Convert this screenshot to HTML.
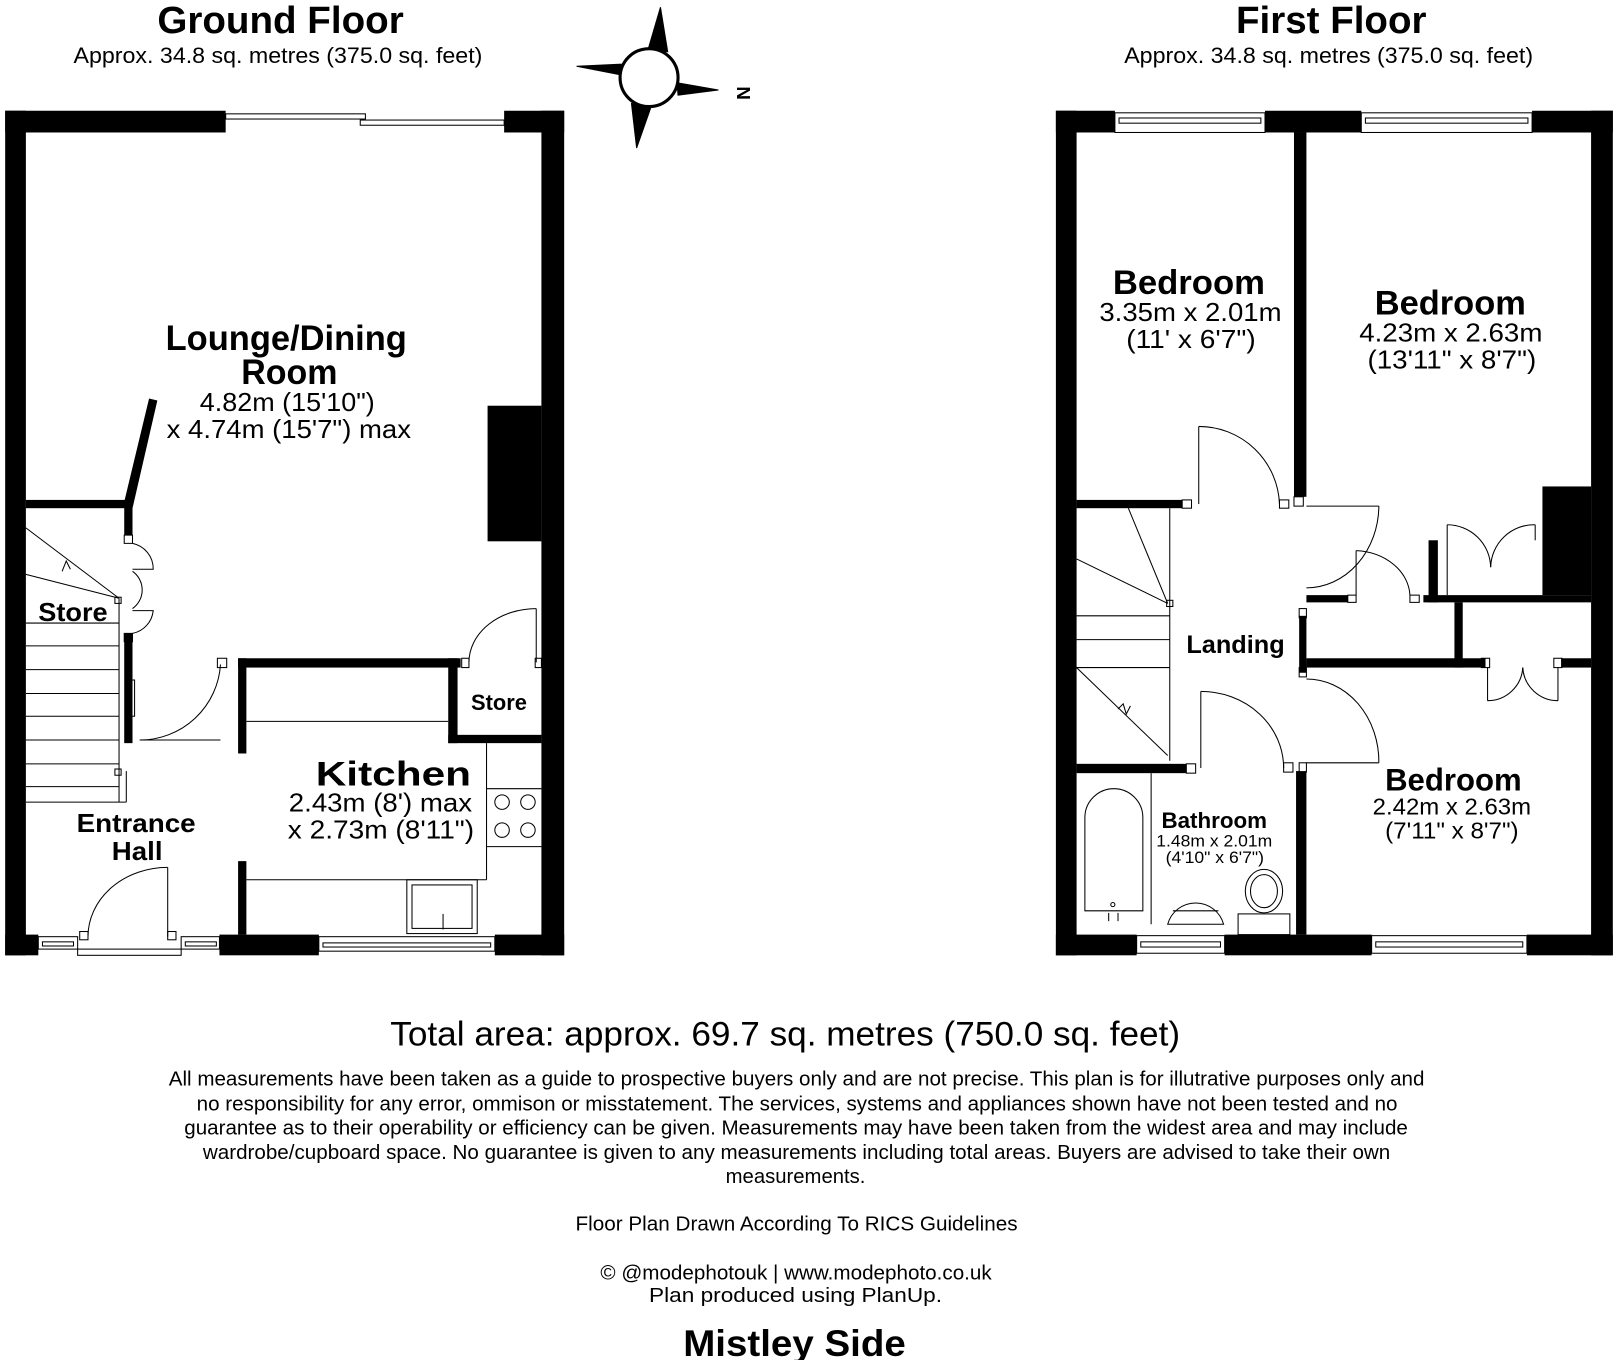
<!DOCTYPE html>
<html><head><meta charset="utf-8"><style>
html,body{margin:0;padding:0;background:#fff;}
svg{display:block;}
text{font-family:"Liberation Sans",sans-serif;fill:#000;}
.b{font-weight:bold;}
</style></head><body>
<svg width="1618" height="1360" viewBox="0 0 1563 1314" preserveAspectRatio="none" xmlns="http://www.w3.org/2000/svg">
<rect width="1563" height="1314" fill="#fff"/>
<!-- Titles -->
<text x="152" y="32" font-size="37" class="b" textLength="238" lengthAdjust="spacingAndGlyphs">Ground Floor</text>
<text x="71" y="61" font-size="21" textLength="395" lengthAdjust="spacingAndGlyphs">Approx. 34.8 sq. metres (375.0 sq. feet)</text>
<text x="1194" y="32" font-size="37" class="b" textLength="184" lengthAdjust="spacingAndGlyphs">First Floor</text>
<text x="1086" y="61" font-size="21" textLength="395" lengthAdjust="spacingAndGlyphs">Approx. 34.8 sq. metres (375.0 sq. feet)</text>

<!-- Compass -->
<g stroke="#000" stroke-width="1">
<polygon points="638,7 626,48 645,50" fill="#000"/>
<polygon points="557,64 598,72 600,62" fill="#000"/>
<polygon points="694,87 655,92 654,80" fill="#000"/>
<polygon points="615,143 629,103 610,100" fill="#000"/>
</g>
<circle cx="627" cy="75" r="28" fill="#fff" stroke="#000" stroke-width="3"/>
<text x="712" y="90" font-size="18" class="b" transform="rotate(90 712 90)" text-anchor="middle">N</text>

<!-- ===== Ground floor ===== -->
<g fill="#000">
<rect x="5" y="107" width="213" height="21"/>
<rect x="487" y="107" width="58" height="21"/>
<rect x="5" y="107" width="20" height="816"/>
<rect x="523" y="107" width="22" height="816"/>
<rect x="5" y="903" width="32" height="20"/>
<rect x="212" y="903" width="96" height="20"/>
<rect x="478" y="903" width="67" height="20"/>
<rect x="471" y="392" width="52" height="131"/>
<rect x="25" y="483" width="103" height="8"/>
<polygon points="144,385 152,387 128,491 119,489"/>
<rect x="120" y="483" width="8" height="34"/>
<rect x="120" y="612" width="8" height="106"/>
<rect x="230" y="636" width="215" height="9"/>
<rect x="230" y="636" width="8" height="92"/>
<rect x="230" y="832" width="8" height="71"/>
<rect x="433" y="636" width="9" height="82"/>
<rect x="433" y="710" width="90" height="8"/>
</g>
<g fill="none" stroke="#000" stroke-width="1">
<rect x="218" y="110" width="135" height="5"/>
<rect x="348" y="116" width="139" height="5"/>
<rect x="37" y="905" width="38" height="12"/><rect x="41" y="910" width="30" height="4"/>
<rect x="175" y="905" width="37" height="12"/><rect x="179" y="910" width="30" height="4"/>
<rect x="75" y="917" width="100" height="6"/>
<rect x="308" y="905" width="170" height="14"/><rect x="312" y="911" width="162" height="4"/>
<line x1="162" y1="838" x2="162" y2="905"/>
<path d="M85 905 A77 67 0 0 1 162 838"/>
<rect x="77" y="900" width="8" height="8"/><rect x="162" y="900" width="8" height="8"/>
<line x1="135" y1="715" x2="213" y2="715"/>
<path d="M135 715 A78 78 0 0 0 213 642"/>
<rect x="210" y="636" width="9" height="9"/>
<rect x="122" y="657" width="8" height="35"/>
<path d="M120 517 h8 v8 h-8z M120 620 h8 v-8 h-8z"/>
<path d="M128 525 A25 25 0 0 1 148 550 L128 550"/>
<path d="M128 612 A25 25 0 0 0 148 590 L128 590"/>
<path d="M128 552 A22 22 0 0 1 128 588"/>
<line x1="518" y1="588" x2="518" y2="640"/>
<path d="M453 640 A65 52 0 0 1 518 588"/>
<rect x="446" y="636" width="7" height="9"/><rect x="517" y="636" width="6" height="9"/>
<line x1="25" y1="602" x2="115" y2="602"/>
<line x1="25" y1="624" x2="115" y2="624"/>
<line x1="25" y1="647" x2="115" y2="647"/>
<line x1="25" y1="670" x2="115" y2="670"/>
<line x1="25" y1="692" x2="115" y2="692"/>
<line x1="25" y1="715" x2="115" y2="715"/>
<line x1="25" y1="738" x2="115" y2="738"/>
<line x1="25" y1="760" x2="115" y2="760"/>
<line x1="115" y1="578" x2="115" y2="775"/>
<line x1="25" y1="775" x2="122" y2="775"/>
<line x1="122" y1="745" x2="122" y2="775"/>
<line x1="25" y1="510" x2="115" y2="578"/>
<line x1="25" y1="555" x2="115" y2="578"/>
<path d="M60 552 l4 -10 l4 8"/>
<rect x="111" y="577" width="6" height="6"/><rect x="111" y="743" width="6" height="6"/>
<line x1="238" y1="697" x2="433" y2="697"/>
<line x1="470" y1="718" x2="470" y2="850"/>
<line x1="238" y1="850" x2="470" y2="850"/>
<line x1="470" y1="762" x2="523" y2="762"/>
<line x1="470" y1="818" x2="523" y2="818"/>
<circle cx="485" cy="775" r="7"/><circle cx="510" cy="775" r="7"/>
<circle cx="485" cy="802" r="7"/><circle cx="510" cy="802" r="7"/>
<rect x="393" y="850" width="68" height="52"/>
<rect x="398" y="855" width="58" height="42"/>
<line x1="428" y1="883" x2="428" y2="898"/>
</g>
<g lengthAdjust="spacingAndGlyphs">
<text x="160" y="338" font-size="34" class="b" textLength="233" lengthAdjust="spacingAndGlyphs">Lounge/Dining</text>
<text x="233" y="371" font-size="34" class="b" textLength="93" lengthAdjust="spacingAndGlyphs">Room</text>
<text x="193" y="397" font-size="25" textLength="169" lengthAdjust="spacingAndGlyphs">4.82m (15'10")</text>
<text x="161" y="423" font-size="25" textLength="236" lengthAdjust="spacingAndGlyphs">x 4.74m (15'7") max</text>
<text x="37" y="600" font-size="25" class="b" textLength="67" lengthAdjust="spacingAndGlyphs">Store</text>
<text x="455" y="686" font-size="21" class="b" textLength="54" lengthAdjust="spacingAndGlyphs">Store</text>
<text x="305" y="759" font-size="33" class="b" textLength="150" lengthAdjust="spacingAndGlyphs">Kitchen</text>
<text x="279" y="784" font-size="25" textLength="177" lengthAdjust="spacingAndGlyphs">2.43m (8') max</text>
<text x="278" y="810" font-size="25" textLength="180" lengthAdjust="spacingAndGlyphs">x 2.73m (8'11")</text>
<text x="74" y="804" font-size="25" class="b" textLength="115" lengthAdjust="spacingAndGlyphs">Entrance</text>
<text x="108" y="831" font-size="25" class="b" textLength="49" lengthAdjust="spacingAndGlyphs">Hall</text>
</g>

<!-- ===== First floor ===== -->
<g fill="#000">
<rect x="1020" y="107" width="57" height="21"/>
<rect x="1222" y="107" width="93" height="21"/>
<rect x="1480" y="107" width="78" height="21"/>
<rect x="1020" y="107" width="20" height="816"/>
<rect x="1537" y="107" width="21" height="816"/>
<rect x="1020" y="903" width="78" height="20"/>
<rect x="1183" y="903" width="142" height="20"/>
<rect x="1475" y="903" width="83" height="20"/>
<rect x="1250" y="128" width="12" height="352"/>
<rect x="1040" y="483" width="102" height="8"/>
<rect x="1490" y="470" width="47" height="105"/>
<rect x="1255" y="595" width="7" height="55"/>
<rect x="1262" y="575" width="40" height="7"/>
<rect x="1375" y="575" width="162" height="7"/>
<rect x="1380" y="522" width="9" height="60"/>
<rect x="1262" y="636" width="173" height="9"/>
<rect x="1508" y="636" width="29" height="9"/>
<rect x="1405" y="582" width="8" height="63"/>
<rect x="1040" y="738" width="106" height="9"/>
<rect x="1252" y="745" width="10" height="158"/>
</g>
<g fill="none" stroke="#000" stroke-width="1">
<rect x="1077" y="109" width="145" height="19"/><rect x="1081" y="114" width="137" height="5"/>
<rect x="1315" y="109" width="165" height="19"/><rect x="1319" y="114" width="157" height="5"/>
<rect x="1098" y="904" width="85" height="17"/><rect x="1102" y="910" width="77" height="5"/>
<rect x="1325" y="904" width="150" height="17"/><rect x="1329" y="910" width="142" height="5"/>
<line x1="1158" y1="412" x2="1158" y2="487"/>
<path d="M1158 412 A78 78 0 0 1 1236 487"/>
<rect x="1142" y="483" width="9" height="8"/><rect x="1236" y="483" width="9" height="8"/>
<rect x="1250" y="480" width="9" height="9"/>
<line x1="1262" y1="489" x2="1332" y2="489"/>
<path d="M1332 489 A70 80 0 0 1 1262 568"/>
<rect x="1255" y="588" width="7" height="9"/>
<rect x="1302" y="575" width="8" height="7"/>
<line x1="1310" y1="532" x2="1310" y2="575"/>
<path d="M1310 532 A55 45 0 0 1 1362 575"/>
<rect x="1362" y="575" width="9" height="7"/>
<path d="M1398 522 v53 M1398 507 v15"/>
<path d="M1398 507 A42 42 0 0 1 1440 548"/>
<path d="M1483 507 A42 42 0 0 0 1440 548"/>
<line x1="1483" y1="507" x2="1483" y2="522"/>
<path d="M1437 645 v32 M1505 645 v32"/>
<path d="M1437 677 A34 34 0 0 0 1471 645"/>
<path d="M1505 677 A34 34 0 0 1 1471 645"/>
<rect x="1431" y="636" width="8" height="9"/><rect x="1501" y="636" width="8" height="9"/>
<path d="M1262 656 A70 80 0 0 1 1332 737"/>
<line x1="1262" y1="737" x2="1332" y2="737"/>
<rect x="1255" y="645" width="7" height="9"/><rect x="1255" y="737" width="7" height="9"/>
<line x1="1160" y1="668" x2="1160" y2="742"/>
<path d="M1160 668 A80 74 0 0 1 1240 742"/>
<rect x="1146" y="738" width="9" height="9"/><rect x="1240" y="737" width="9" height="9"/>
<line x1="1130" y1="491" x2="1130" y2="735"/>
<line x1="1040" y1="595" x2="1130" y2="595"/>
<line x1="1040" y1="618" x2="1130" y2="618"/>
<line x1="1040" y1="645" x2="1130" y2="645"/>
<line x1="1040" y1="540" x2="1128" y2="583"/>
<line x1="1040" y1="645" x2="1128" y2="730"/>
<line x1="1090" y1="491" x2="1128" y2="583"/>
<path d="M1080 685 l5 -5 l3 10 l4 -8"/>
<rect x="1127" y="580" width="6" height="6"/>
<line x1="1112" y1="747" x2="1112" y2="893"/>
<path d="M1048 880 V790 A28 28 0 0 1 1104 790 V880 Z"/>
<circle cx="1075" cy="874" r="2"/>
<line x1="1071" y1="882" x2="1071" y2="890"/><line x1="1080" y1="882" x2="1080" y2="890"/>
<path d="M1128 893 A28 28 0 0 1 1182 893 Z"/>
<line x1="1133" y1="880" x2="1177" y2="880"/>
<ellipse cx="1221" cy="861" rx="18" ry="21"/>
<ellipse cx="1221" cy="861" rx="13" ry="16"/>
<rect x="1196" y="883" width="50" height="20"/>
</g>
<text x="1075" y="284" font-size="33" class="b" textLength="147" lengthAdjust="spacingAndGlyphs">Bedroom</text>
<text x="1062" y="310" font-size="25" textLength="176" lengthAdjust="spacingAndGlyphs">3.35m x 2.01m</text>
<text x="1088" y="336" font-size="25" textLength="125" lengthAdjust="spacingAndGlyphs">(11' x 6'7")</text>
<text x="1328" y="304" font-size="33" class="b" textLength="146" lengthAdjust="spacingAndGlyphs">Bedroom</text>
<text x="1313" y="330" font-size="25" textLength="177" lengthAdjust="spacingAndGlyphs">4.23m x 2.63m</text>
<text x="1321" y="356" font-size="25" textLength="163" lengthAdjust="spacingAndGlyphs">(13'11" x 8'7")</text>
<text x="1146" y="631" font-size="24" class="b" textLength="95" lengthAdjust="spacingAndGlyphs">Landing</text>
<text x="1338" y="764" font-size="30" class="b" textLength="132" lengthAdjust="spacingAndGlyphs">Bedroom</text>
<text x="1326" y="787" font-size="22" textLength="153" lengthAdjust="spacingAndGlyphs">2.42m x 2.63m</text>
<text x="1338" y="810" font-size="22" textLength="129" lengthAdjust="spacingAndGlyphs">(7'11" x 8'7")</text>
<text x="1122" y="800" font-size="21" class="b" textLength="102" lengthAdjust="spacingAndGlyphs">Bathroom</text>
<text x="1117" y="818" font-size="16" textLength="112" lengthAdjust="spacingAndGlyphs">1.48m x 2.01m</text>
<text x="1126" y="834" font-size="16" textLength="95" lengthAdjust="spacingAndGlyphs">(4'10" x 6'7")</text>

<!-- Footer -->
<text x="377" y="1010" font-size="33" textLength="763" lengthAdjust="spacingAndGlyphs">Total area: approx. 69.7 sq. metres (750.0 sq. feet)</text>
<g font-size="20">
<text x="163" y="1049" textLength="1213" lengthAdjust="spacingAndGlyphs">All measurements have been taken as a guide to prospective buyers only and are not precise. This plan is for illutrative purposes only and</text>
<text x="190" y="1073" textLength="1160" lengthAdjust="spacingAndGlyphs">no responsibility for any error, ommison or misstatement. The services, systems and appliances shown have not been tested and no</text>
<text x="178" y="1096" textLength="1182" lengthAdjust="spacingAndGlyphs">guarantee as to their operability or efficiency can be given. Measurements may have been taken from the widest area and may include</text>
<text x="196" y="1120" textLength="1147" lengthAdjust="spacingAndGlyphs">wardrobe/cupboard space. No guarantee is given to any measurements including total areas. Buyers are advised to take their own</text>
<text x="701" y="1143" textLength="135" lengthAdjust="spacingAndGlyphs">measurements.</text>
<text x="556" y="1189" textLength="427" lengthAdjust="spacingAndGlyphs">Floor Plan Drawn According To RICS Guidelines</text>
<text x="580" y="1236" textLength="378" lengthAdjust="spacingAndGlyphs">© @modephotouk | www.modephoto.co.uk</text>
<text x="627" y="1258" textLength="283" lengthAdjust="spacingAndGlyphs">Plan  produced  using  PlanUp.</text>
</g>
<text x="660" y="1310" font-size="36" class="b" textLength="215" lengthAdjust="spacingAndGlyphs">Mistley Side</text>
</svg>
</body></html>
